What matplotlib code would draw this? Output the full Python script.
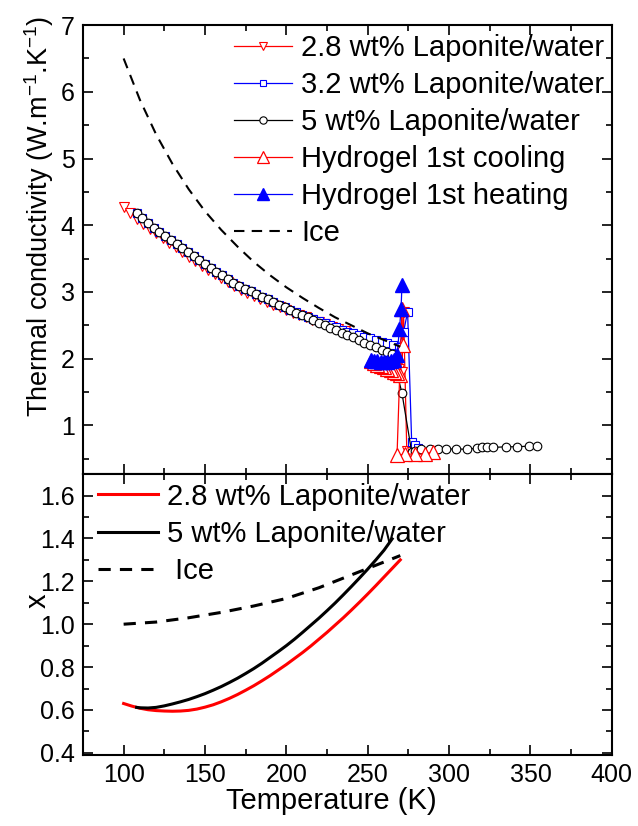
import matplotlib
matplotlib.use("Agg")
import matplotlib.pyplot as plt
from matplotlib.ticker import MultipleLocator

plt.rcParams['font.family'] = ['Liberation Sans', 'DejaVu Sans']
plt.rcParams['font.size'] = 18
plt.rcParams['mathtext.default'] = 'regular'

# ---- top panel data: thermal conductivity ----
t_28 = [100, 104, 108, 112, 116, 120, 124, 128, 132, 136, 140, 144, 148, 152, 156,
        160, 164, 168, 172, 176, 180, 184, 188, 192, 196, 200, 204, 208, 212, 216,
        220, 224, 228, 232, 236, 240, 244, 248, 252, 256, 260, 264, 267, 269, 271,
        272, 274, 277]
k_28 = [4.28, 4.19, 4.10, 4.02, 3.95, 3.88, 3.81, 3.74, 3.67, 3.60, 3.53, 3.46, 3.39,
        3.33, 3.27, 3.21, 3.15, 3.09, 3.03, 2.98, 2.94, 2.89, 2.85, 2.81, 2.77, 2.73,
        2.69, 2.65, 2.62, 2.58, 2.55, 2.52, 2.48, 2.44, 2.41, 2.37, 2.34, 2.30, 2.27,
        2.23, 2.20, 2.16, 2.10, 1.85, 1.80, 2.70, 0.62, 0.60]

t_32 = [108, 111.5, 115, 118.5, 122, 125.5, 129, 132.5, 136, 139.5, 143, 146.5, 150,
        153.5, 157, 160.5, 164, 167.5, 171, 174.5, 178, 181.5, 185, 188.5, 192, 195.5,
        199, 202.5, 206, 209.5, 213, 216.5, 220, 223.5, 227, 230.5, 234, 237.5, 241,
        244.5, 248, 251.5, 255, 258.5, 262, 265.5, 269, 272, 274.5, 277, 279, 281]
k_32 = [4.19, 4.11, 4.03, 3.96, 3.90, 3.84, 3.78, 3.72, 3.66, 3.60, 3.54, 3.48, 3.42,
        3.36, 3.30, 3.25, 3.19, 3.13, 3.09, 3.05, 3.01, 2.97, 2.93, 2.89, 2.85, 2.81,
        2.77, 2.73, 2.70, 2.66, 2.63, 2.60, 2.57, 2.53, 2.50, 2.47, 2.43, 2.40, 2.38,
        2.36, 2.33, 2.31, 2.28, 2.25, 2.23, 2.20, 2.18, 2.40, 2.70, 0.75, 0.70, 0.66]

t_5 = [108, 111.5, 115, 118.5, 122, 125.5, 129, 132.5, 136, 139.5, 143, 146.5, 150,
       153.5, 157, 160.5, 164, 167.5, 171, 174.5, 178, 181.5, 185, 188.5, 192, 195.5,
       199, 202.5, 206, 209.5, 213, 216.5, 220, 223.5, 227, 230.5, 234, 237.5, 241,
       244.5, 248, 251.5, 255, 258.5, 262, 265, 271, 277, 279, 283, 288, 293, 298,
       304, 311, 317, 320, 323, 327, 335, 342, 349, 354]
k_5 = [4.19, 4.11, 4.03, 3.96, 3.90, 3.84, 3.78, 3.72, 3.66, 3.60, 3.54, 3.48, 3.42,
       3.36, 3.30, 3.25, 3.19, 3.13, 3.09, 3.05, 3.01, 2.97, 2.93, 2.89, 2.85, 2.81,
       2.77, 2.73, 2.69, 2.65, 2.62, 2.58, 2.54, 2.50, 2.46, 2.43, 2.39, 2.35, 2.32,
       2.28, 2.24, 2.21, 2.17, 2.13, 2.10, 2.07, 1.49, 0.60, 0.61, 0.64, 0.64, 0.64,
       0.64, 0.65, 0.64, 0.66, 0.67, 0.67, 0.67, 0.68, 0.68, 0.69, 0.69]

t_cool = [290, 285, 279, 273, 268, 271, 271.5, 270, 268, 266, 264, 262, 260, 258,
          256, 254, 252]
k_cool = [0.60, 0.57, 0.57, 0.57, 0.55, 2.75, 2.20, 1.75, 1.78, 1.80, 1.83, 1.85,
          1.87, 1.89, 1.91, 1.93, 1.96]

t_heat = [252, 254, 256, 258, 260, 262, 264, 266, 268, 269.5, 270.5, 271]
k_heat = [1.98, 1.97, 1.96, 1.95, 1.95, 1.95, 1.96, 1.98, 2.05, 2.45, 2.75, 3.10]

t_ice = [100, 110, 120, 130, 140, 150, 160, 170, 180, 190, 200, 210, 220, 230, 240,
         250, 260, 270]
k_ice = [6.50, 5.88, 5.36, 4.92, 4.54, 4.21, 3.93, 3.68, 3.45, 3.25, 3.07, 2.91,
         2.76, 2.62, 2.50, 2.38, 2.28, 2.18]

# ---- bottom panel data: exponent x ----
tx_28 = [100, 105, 110, 115, 120, 125, 130, 135, 140, 145, 150, 155, 160, 165, 170,
         175, 180, 185, 190, 195, 200, 205, 210, 215, 220, 225, 230, 235, 240, 245,
         250, 255, 260, 265, 270]
x_28 = [0.630, 0.618, 0.608, 0.601, 0.597, 0.595, 0.594, 0.595, 0.598, 0.604, 0.613,
        0.624, 0.638, 0.654, 0.672, 0.692, 0.713, 0.736, 0.760, 0.786, 0.812, 0.840,
        0.868, 0.898, 0.930, 0.962, 0.996, 1.030, 1.066, 1.103, 1.141, 1.180, 1.220,
        1.260, 1.300]
tx_5 = [108, 110, 115, 120, 125, 130, 135, 140, 145, 150, 155, 160, 165, 170, 175,
        180, 185, 190, 195, 200, 205, 210, 215, 220, 225, 230, 235, 240, 245, 250,
        255, 260, 265]
x_5 = [0.612, 0.610, 0.609, 0.612, 0.619, 0.628, 0.638, 0.649, 0.662, 0.676, 0.692,
       0.709, 0.728, 0.748, 0.770, 0.793, 0.818, 0.845, 0.872, 0.900, 0.930, 0.962,
       0.995, 1.028, 1.063, 1.099, 1.137, 1.176, 1.216, 1.257, 1.300, 1.345, 1.398]
tx_ice = [100, 120, 140, 160, 180, 200, 220, 240, 260, 270]
x_ice = [1.00, 1.01, 1.03, 1.055, 1.085, 1.12, 1.17, 1.23, 1.29, 1.32]

fig = plt.figure(figsize=(6.38, 8.26), dpi=100)
ax1 = fig.add_axes([0.130, 0.426, 0.829, 0.5436])
ax2 = fig.add_axes([0.130, 0.086, 0.829, 0.340], sharex=ax1)

ax1.plot(t_28, k_28, color='red', lw=0.9, marker='v', ms=6.5, mfc='white',
         mec='red', mew=0.8, label='2.8 wt% Laponite/water')
ax1.plot(t_32, k_32, color='blue', lw=0.9, marker='s', ms=5.5, mfc='white',
         mec='blue', mew=0.8, label='3.2 wt% Laponite/water')
ax1.plot(t_5, k_5, color='black', lw=0.9, marker='o', ms=6.2, mfc='white',
         mec='black', mew=0.8, label='5 wt% Laponite/water')
ax1.plot(t_cool, k_cool, color='red', lw=0.9, marker='^', ms=10, mfc='white',
         mec='red', mew=0.9, label='Hydrogel 1st cooling')
ax1.plot(t_heat, k_heat, color='blue', lw=0.9, marker='^', ms=10, mfc='blue',
         mec='blue', label='Hydrogel 1st heating')
ax1.plot(t_ice, k_ice, color='black', lw=1.5, ls=(0, (5, 3.5)), label='Ice')

ax1.set_xlim(75, 400)
ax1.set_ylim(0.27, 7)
ax1.yaxis.set_major_locator(MultipleLocator(1))
ax1.yaxis.set_minor_locator(MultipleLocator(0.5))
ax1.set_ylabel('Thermal conductivity (W.m$^{-1}$.K$^{-1}$)', fontsize=19.5)
ax1.tick_params(labelbottom=False)
ax1.legend(loc='upper left', bbox_to_anchor=(0.285, 0.98), frameon=False,
           fontsize=21, handlelength=2.0, handletextpad=0.31, labelspacing=0.31,
           borderpad=0, borderaxespad=0, numpoints=1, markerscale=0.85)

ax2.plot(tx_28, x_28, color='red', lw=2.2, label='2.8 wt% Laponite/water')
ax2.plot(tx_5, x_5, color='black', lw=2.2, label='5 wt% Laponite/water')
ax2.plot(tx_ice, x_ice, color='black', lw=2.2, ls=(0, (4, 3)), label=' Ice')
ax2.set_ylim(0.39, 1.7)
ax2.yaxis.set_major_locator(MultipleLocator(0.2))
ax2.yaxis.set_minor_locator(MultipleLocator(0.1))
ax2.xaxis.set_major_locator(MultipleLocator(50))
ax2.xaxis.set_minor_locator(MultipleLocator(25))
ax2.set_ylabel('x', fontsize=21)
ax2.set_xlabel('Temperature (K)', fontsize=21)
ax2.xaxis.set_label_coords(0.469, -0.114)
ax2.legend(loc='upper left', bbox_to_anchor=(0.028, 0.97), frameon=False,
           fontsize=21, handlelength=2.05, handletextpad=0.34, labelspacing=0.32,
           borderpad=0, borderaxespad=0)

for ax in (ax1, ax2):
    for s in ax.spines.values():
        s.set_linewidth(1.5)
    ax.tick_params(which='both', direction='in', top=True, right=True, width=1.2)
    ax.tick_params(which='major', length=7, pad=6)
    ax.tick_params(which='minor', length=4)

ax1.yaxis.set_label_coords(-0.05, 0.575)
ax2.yaxis.set_label_coords(-0.06, 0.55)

fig.savefig('out.png', dpi=100)
